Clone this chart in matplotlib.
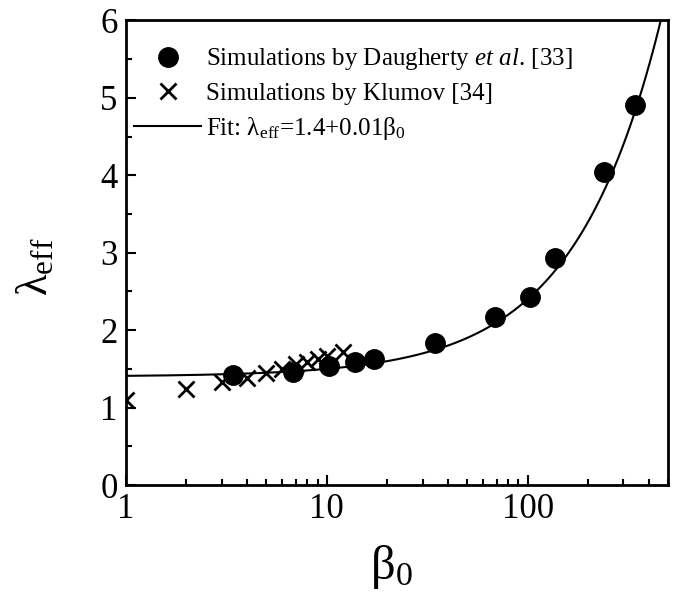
import numpy as np
import matplotlib
matplotlib.use("Agg")
import matplotlib.pyplot as plt
from matplotlib.ticker import MultipleLocator, LogLocator, NullFormatter, FixedLocator, FixedFormatter

plt.rcParams['font.family'] = ['Liberation Serif', 'DejaVu Serif']
plt.rcParams['mathtext.fontset'] = 'custom'
plt.rcParams['mathtext.rm'] = 'Liberation Serif'
plt.rcParams['mathtext.it'] = 'Liberation Serif:italic'
plt.rcParams['mathtext.default'] = 'regular'

# Data
daugherty_beta = [3.4, 6.8, 10.3, 13.8, 17.2, 34.5, 69, 103, 137, 240, 343]
daugherty_lam = [1.42, 1.46, 1.54, 1.59, 1.63, 1.83, 2.17, 2.43, 2.93, 4.04, 4.91]
klumov_beta = [1, 2, 3, 4, 5, 6, 7, 8, 9, 10, 12]
klumov_lam = [1.10, 1.24, 1.33, 1.38, 1.45, 1.50, 1.56, 1.59, 1.63, 1.67, 1.72]
fit_a = 1.4
fit_b = 0.01
xticks = [1, 10, 100]
xticklabels = ['1', '10', '100']
yticks = [0, 1, 2, 3, 4, 5, 6]

fig = plt.figure(figsize=(6.8, 5.99), dpi=100)
ax = fig.add_axes([0.1853, 0.1903, 0.9824 - 0.1853, 0.9658 - 0.1903])

xf = np.logspace(0, np.log10(500), 400)
ax.plot(xf, fit_a + fit_b * xf, color='black', lw=1.5,
        label=r'Fit: $λ_{eff}$=1.4+0.01$β_{0}$', zorder=2)
ax.plot(daugherty_beta, daugherty_lam, 'o', color='black', ms=14, mec='black',
        label=r'Simulations by Daugherty $\mathit{et\ al}$. [33]', zorder=3)
ax.plot(klumov_beta, klumov_lam, 'x', color='black', ms=12, mew=2,
        label='Simulations by Klumov [34]', zorder=3, clip_on=True)

ax.set_xscale('log')
ax.set_xlim(1, 500)
ax.set_ylim(0, 6)
ax.xaxis.set_major_locator(FixedLocator(xticks))
ax.xaxis.set_major_formatter(FixedFormatter(xticklabels))
ax.xaxis.set_minor_locator(LogLocator(base=10, subs=np.arange(2, 10)))
ax.xaxis.set_minor_formatter(NullFormatter())
ax.yaxis.set_major_locator(FixedLocator(yticks))
ax.yaxis.set_minor_locator(MultipleLocator(0.5))

ax.tick_params(axis='both', which='major', direction='in', length=7, width=1.5,
               labelsize=25, top=False, right=False, pad=6)
ax.tick_params(axis='both', which='minor', direction='in', length=4, width=1.5,
               top=False, right=False)
for s in ax.spines.values():
    s.set_linewidth(2)

ax.set_xlabel(r'$β_{0}$', fontsize=35)
ax.xaxis.set_label_coords(0.49, -0.125)
ax.set_ylabel(r'$λ_{eff}$', fontsize=32)
ax.yaxis.set_label_coords(-0.13, 0.47)

h, l = ax.get_legend_handles_labels()
order = [1, 2, 0]
leg = ax.legend([h[i] for i in order], [l[i] for i in order], loc='upper left',
                frameon=False, fontsize=18, handlelength=2.7, handletextpad=0.2,
                labelspacing=0.4, borderaxespad=0.0, bbox_to_anchor=(-0.004, 0.966))

fig.savefig('out.png', dpi=100)
